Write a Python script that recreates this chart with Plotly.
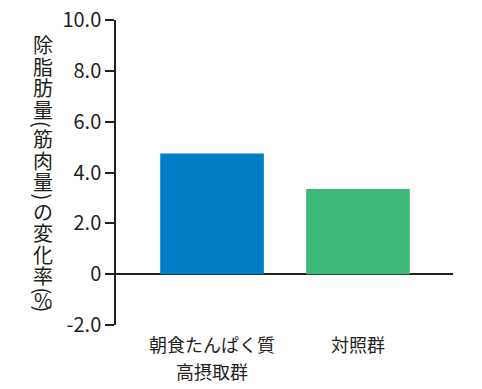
import plotly.graph_objects as go

categories = ["朝食たんぱく質\n高摂取群", "対照群"]
values = [4.75, 3.35]
bar_colors = ["#007DC6", "#3CB878"]
y_tickvals = [-2, 0, 2, 4, 6, 8, 10]
y_ticktext = ["-2.0", "0", "2.0", "4.0", "6.0", "8.0", "10.0"]
y_title = "除脂肪量(筋肉量)の変化率(%)"

FONT = "Noto Sans CJK JP"
INK = "#231F20"

PLOT_H = 305.0

x_idx = list(range(len(categories)))

fig = go.Figure()
fig.add_trace(go.Bar(
    x=x_idx, y=values, marker=dict(color=bar_colors, line=dict(width=0)),
    width=0.71, showlegend=False, hoverinfo="skip",
))

annotations = []
# category labels (multi-line, placed under each category)
for i, cat in enumerate(categories):
    for j, line in enumerate(cat.split("\n")):
        annotations.append(dict(
            x=i, y=0, xref="x", yref="paper", text=line, showarrow=False,
            yanchor="middle", xanchor="center", yshift=-19 - 27 * j,
            font=dict(family=FONT, size=18, color=INK),
        ))

# vertical y-axis title, one glyph per line (brackets turned sideways)
py = 34.0
for ch in y_title:
    if ch in "()":
        adv = 8.0
    elif ch == "%":
        adv = 10.0
    else:
        adv = 21.5
    center = py + adv / 2
    py += adv
    annotations.append(dict(
        x=0, xref="paper", xshift=-73, y=(325.0 - center) / PLOT_H, yref="paper",
        text=ch, showarrow=False, xanchor="center", yanchor="middle",
        textangle=90 if ch in "()" else 0,
        font=dict(family=FONT, size=20, color=INK),
    ))

fig.update_layout(
    width=482, height=389,
    margin=dict(l=116, r=29, t=20, b=64, autoexpand=False),
    plot_bgcolor="white", paper_bgcolor="white",
    font=dict(family=FONT, color=INK),
    xaxis=dict(range=[-0.658, 1.651], showticklabels=False, showline=False,
               showgrid=False, zeroline=False, ticks=""),
    yaxis=dict(range=[-2, 10], tickvals=y_tickvals, ticktext=y_ticktext,
               showline=True, linecolor=INK, linewidth=1.5,
               ticks="outside", ticklen=9, tickcolor=INK, tickwidth=1.5,
               showgrid=False, zeroline=True, zerolinecolor=INK, zerolinewidth=1.5,
               tickfont=dict(family=FONT, size=20, color=INK)),
    annotations=annotations,
)

fig.write_html(
    "out.html",
    config={"displayModeBar": False},
    post_script="document.documentElement.style.margin='0';"
                "document.body.style.margin='0';document.body.style.overflow='hidden';",
)
